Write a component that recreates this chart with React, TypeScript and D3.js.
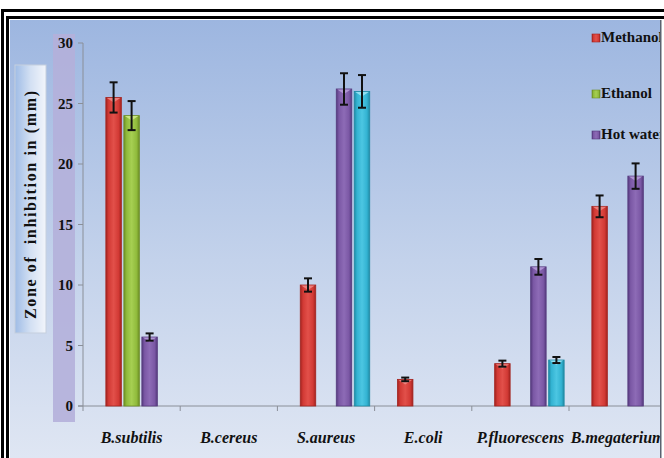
import React from "react";
import * as d3 from "d3";

// Bacterial strains tested
const categories = ["B.subtilis", "B.cereus", "S.aureus", "E.coli", "P.fluorescens", "B.megaterium"];

// Extract series (zone of inhibition, mm); 0 = no inhibition
const seriesKeys = ["Methanol", "Ethanol", "Hot water", "Cold water"];
const methanol = [25.5, 0, 10.0, 2.2, 3.5, 16.5];
const ethanol = [24.0, 0, 0, 0, 0, 0];
const hotWater = [5.7, 0, 26.2, 0, 11.5, 19.0];
const coldWater = [0, 0, 26.0, 0, 3.8, 0];

// Standard deviations
const methanolErr = [1.25, 0, 0.55, 0.15, 0.25, 0.9];
const ethanolErr = [1.2, 0, 0, 0, 0, 0];
const hotWaterErr = [0.3, 0, 1.3, 0, 0.65, 1.05];
const coldWaterErr = [0, 0, 1.35, 0, 0.25, 0];

const yTicks = [0, 5, 10, 15, 20, 25, 30];
const legendKeys = ["Methanol", "Ethanol", "Hot water"];

const seriesValues = [methanol, ethanol, hotWater, coldWater];
const seriesErrors = [methanolErr, ethanolErr, hotWaterErr, coldWaterErr];

const palette: Record<string, { dark: string; base: string; light: string; top: string }> = {
  Methanol: { dark: "#a3231f", base: "#d23a35", light: "#e2504a", top: "#f08a86" },
  Ethanol: { dark: "#6e8f25", base: "#90bb3c", light: "#a6cf52", top: "#d2ec8e" },
  "Hot water": { dark: "#553a7e", base: "#7b58a5", light: "#8d6bb6", top: "#b9a0dc" },
  "Cold water": { dark: "#1f8aa4", base: "#33b3d2", light: "#4cc6e2", top: "#9fe6f6" },
};

const W = 664;
const H = 458;
const serif = "'Liberation Serif', 'Times New Roman', serif";

export default function App() {
  const x = d3
    .scaleBand<string>()
    .domain(categories)
    .range([83, 83 + 97.2 * categories.length])
    .paddingInner(0)
    .paddingOuter(0);

  // each cluster keeps an empty leading slot before the extract bars
  const slots = ["lead", ...seriesKeys];
  const xs = d3
    .scaleBand<string>()
    .domain(slots)
    .range([0, x.bandwidth()])
    .paddingInner(0.14)
    .paddingOuter(0.27);

  const y = d3.scaleLinear().domain([0, 30]).range([406, 43]);

  const bars: React.ReactNode[] = [];
  const errs: React.ReactNode[] = [];
  categories.forEach((cat, ci) => {
    seriesKeys.forEach((key, si) => {
      const v = seriesValues[si][ci];
      if (!v) return;
      const e = seriesErrors[si][ci];
      const bx = (x(cat) ?? 0) + (xs(key) ?? 0);
      const bw = xs.bandwidth();
      const top = y(v);
      const gid = `g-${si}`;
      const c = palette[key];
      bars.push(
        <g key={`b-${ci}-${si}`}>
          <rect x={bx} y={top} width={bw} height={y(0) - top} fill={`url(#${gid})`} stroke={c.dark} strokeWidth={0.8} />
          <path
            d={`M${bx + 1},${top + 0.5} L${bx + bw - 1},${top + 0.5} L${bx + bw / 2},${top + 5} Z`}
            fill={c.top}
            opacity={0.85}
          />
        </g>
      );
      if (e > 0) {
        const cx = bx + bw / 2;
        const y1 = y(v + e);
        const y2 = y(v - e);
        errs.push(
          <g key={`e-${ci}-${si}`} stroke="#111" strokeWidth={2}>
            <line x1={cx} x2={cx} y1={y1} y2={y2} />
            <line x1={cx - 4} x2={cx + 4} y1={y1} y2={y1} />
            <line x1={cx - 4} x2={cx + 4} y1={y2} y2={y2} />
          </g>
        );
      }
    });
  });

  const legendY = [42, 98, 139];

  return (
    <svg width={W} height={H} style={{ position: "absolute", left: 0, top: 0 }} fontFamily={serif}>
      <defs>
        <linearGradient id="panelBg" x1="0" y1="0" x2="0" y2="1">
          <stop offset="0" stopColor="#9db6e0" />
          <stop offset="0.55" stopColor="#c3d2eb" />
          <stop offset="1" stopColor="#dfe6f3" />
        </linearGradient>
        <linearGradient id="labelBg" x1="0" y1="0" x2="1" y2="0">
          <stop offset="0" stopColor="#9fbce6" />
          <stop offset="0.5" stopColor="#d3e0f3" />
          <stop offset="1" stopColor="#f2f5fb" />
        </linearGradient>
        {seriesKeys.map((k, i) => (
          <linearGradient key={k} id={`g-${i}`} x1="0" y1="0" x2="1" y2="0">
            <stop offset="0" stopColor={palette[k].dark} />
            <stop offset="0.18" stopColor={palette[k].base} />
            <stop offset="0.5" stopColor={palette[k].light} />
            <stop offset="0.82" stopColor={palette[k].base} />
            <stop offset="1" stopColor={palette[k].dark} />
          </linearGradient>
        ))}
        <clipPath id="panelClip">
          <rect x={10} y={20} width={651} height={H - 20} />
        </clipPath>
      </defs>

      <rect width={W} height={H} fill="#ffffff" />

      {/* double frame */}
      <rect x={1} y={9} width={W} height={3} fill="#000" />
      <rect x={1} y={9} width={3} height={H} fill="#000" />
      <rect x={6} y={16} width={W} height={3} fill="#000" />
      <rect x={6} y={16} width={3} height={H} fill="#000" />

      <g clipPath="url(#panelClip)">
        <rect x={10} y={20} width={651} height={H - 20} fill="url(#panelBg)" />

        {/* axis title box */}
        <rect x={15} y={65} width={31} height={268} fill="url(#labelBg)" stroke="#c5cfdd" strokeWidth={1} />
        <text
          transform="translate(36,205) rotate(-90)"
          textAnchor="middle"
          fontSize={16}
          fontWeight="bold"
          fill="#111"
          textLength={228}
          lengthAdjust="spacing"
          style={{ whiteSpace: "pre" }}
        >
          {"Zone of  inhibition in (mm)"}
        </text>

        {/* tick label strip */}
        <rect x={53} y={34} width={22} height={388} fill="#b4b0da" opacity={0.9} />
        {yTicks.map((t) => (
          <g key={t}>
            <text x={73} y={y(t) + 5} textAnchor="end" fontSize={15} fontWeight="bold" fill="#111">
              {t}
            </text>
            <line x1={78} x2={83} y1={y(t)} y2={y(t)} stroke="#8a8f98" strokeWidth={1} />
          </g>
        ))}

        {/* axes */}
        <line x1={83} x2={83} y1={y(30)} y2={y(0)} stroke="#8a8f98" strokeWidth={1} />
        <line x1={78} x2={W} y1={y(0)} y2={y(0)} stroke="#8a8f98" strokeWidth={1} />
        {categories.map((c) => (
          <line
            key={`t-${c}`}
            x1={x(c) ?? 0}
            x2={x(c) ?? 0}
            y1={y(0)}
            y2={y(0) + 5}
            stroke="#8a8f98"
            strokeWidth={1}
          />
        ))}

        {bars}
        {errs}

        {categories.map((c) => (
          <text
            key={`l-${c}`}
            x={(x(c) ?? 0) + x.bandwidth() / 2}
            y={443}
            textAnchor="middle"
            fontSize={16}
            fontWeight="bold"
            fontStyle="italic"
            fill="#111"
          >
            {c}
          </text>
        ))}

        {/* legend */}
        {legendKeys.map((k, i) => (
          <g key={`lg-${k}`}>
            <rect x={592} y={legendY[i] - 8} width={8} height={8} fill={`url(#g-${seriesKeys.indexOf(k)})`} stroke={palette[k].dark} strokeWidth={0.6} />
            <text x={601} y={legendY[i]} fontSize={15} fontWeight="bold" fill="#111">
              {k}
            </text>
          </g>
        ))}
      </g>

      {/* right edge of the plot panel */}
      <rect x={660} y={20} width={1.5} height={H - 20} fill="#5a6270" />
    </svg>
  );
}
